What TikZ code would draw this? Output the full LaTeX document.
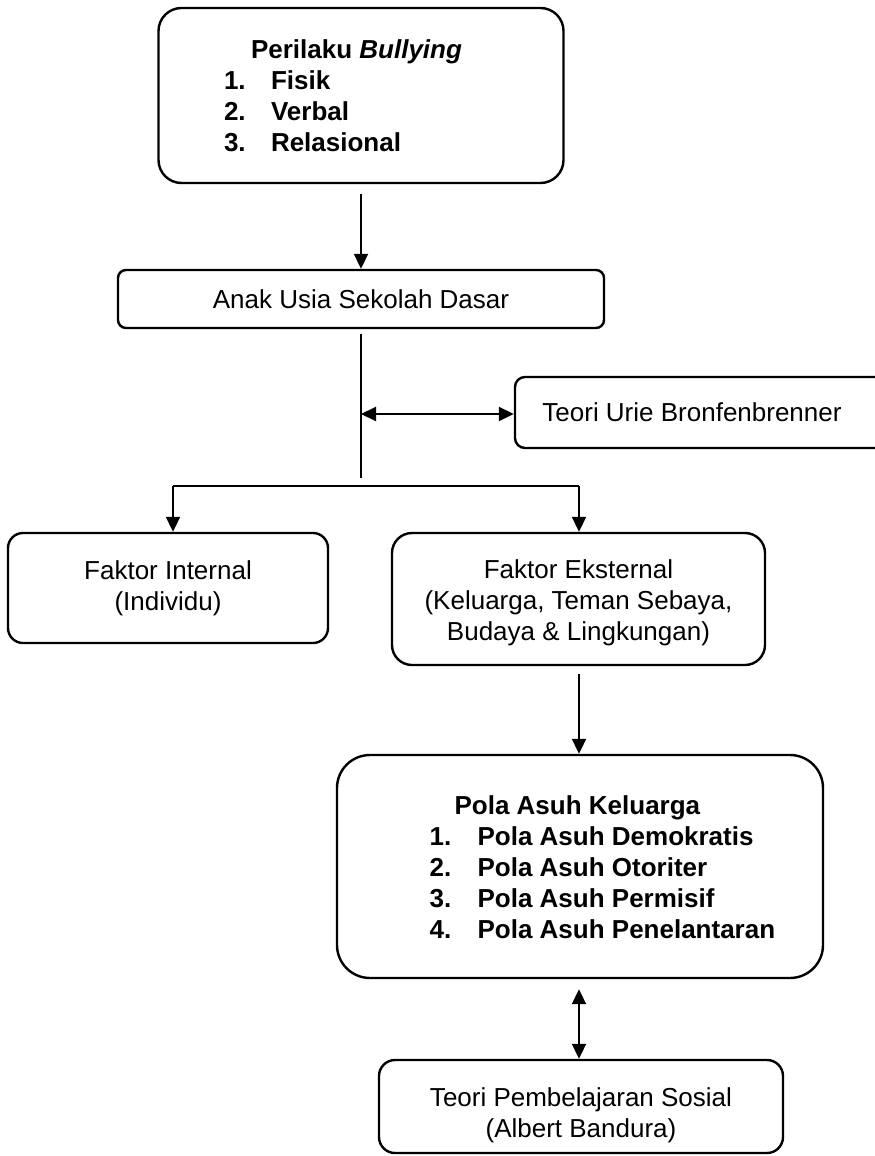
\documentclass[tikz,border=0pt]{standalone}
\usepackage{fontspec}
\setmainfont{Liberation Sans}
\usepackage{tikz}
\usetikzlibrary{arrows.meta}

\begin{document}
\begin{tikzpicture}[x=0.5pt,y=-0.5pt,
        box/.style={draw,line width=1.2pt,align=center,inner sep=0pt,font=\fontsize{13pt}{15.5pt}\selectfont},
        listbox/.style={box,font=\fontsize{13pt}{15.5pt}\selectfont\bfseries},
        arr/.style={line width=1pt,-{Triangle[length=7.5pt,width=7pt]}},
        twoarr/.style={line width=1pt,{Triangle[length=7.5pt,width=7pt]}-{Triangle[length=7.5pt,width=7pt]}},
        thinline/.style={line width=0.6pt}]
        	\useasboundingbox (0,0) rectangle (874,1156);
        	\node[listbox,rounded corners=11.5pt,minimum width=202.5pt,minimum height=87.5pt] (perilaku) at (361,95.5) {\hspace*{-18pt}\begin{tabular}{@{}p{23.5pt}@{}l@{}}
        			\multicolumn{2}{@{}l@{}}{\rule{0pt}{13.85pt}\hspace{13.5pt}Perilaku \textit{Bullying}}\\
        			1. & Fisik\\
        			2. & Verbal\\
        			3. & Relasional
        		\end{tabular}};
        	\node[box,rounded corners=4pt,minimum width=243pt,minimum height=29pt] (anak) at (361,299) {Anak Usia Sekolah Dasar};
        	\node[box,rounded corners=5pt,minimum width=190pt,minimum height=35.5pt] (teori) at (705,412.5) {\hspace*{-13pt}Teori Urie Bronfenbrenner};
        	\node[box,rounded corners=7.5pt,minimum width=160pt,minimum height=55pt] (internal) at (168,588) {Faktor Internal\\(Individu)};
        	\node[box,rounded corners=10pt,minimum width=186.5pt,minimum height=66pt] (eksternal) at (578.5,599) {\rule{0pt}{13.5pt}Faktor Eksternal\\(Keluarga, Teman Sebaya,\\Budaya \& Lingkungan)};
        	\node[listbox,rounded corners=16.5pt,minimum width=243pt,minimum height=111.5pt] (pola) at (580,866.5) {\hspace*{22.4pt}\begin{tabular}{@{}p{24pt}@{}l@{}}
        			\multicolumn{2}{@{}l@{}}{\rule{0pt}{14.85pt}\hspace{12.5pt}Pola Asuh Keluarga}\\
        			1. & Pola Asuh Demokratis\\
        			2. & Pola Asuh Otoriter\\
        			3. & Pola Asuh Permisif\\
        			4. & Pola Asuh Penelantaran
        		\end{tabular}};
        	\node[box,rounded corners=8pt,minimum width=202pt,minimum height=46.5pt] (bandura) at (581,1106.5) {\rule{0pt}{18.5pt}Teori Pembelajaran Sosial\\(Albert Bandura)};
        	\coordinate (split) at (361,478);
        	\coordinate (cross) at (361,414);
        	\coordinate (bleft) at (173,486);
        	\coordinate (bright) at (579,486);
        	\draw[arr,shorten <=5pt] (perilaku.south) -- (anak.north);
        	\draw[thinline] ([yshift=-2.5pt]anak.south) -- (split);
        	\draw[twoarr] (cross) -- (cross -| teori.west);
        	\draw[thinline] (bleft) -- (bright);
        	\draw[arr] (bleft) -- (bleft |- internal.north);
        	\draw[arr] (bright) -- (bright |- eksternal.north);
        	\draw[arr,shorten <=4pt] (eksternal.south -| bright) -- (bright |- pola.north);
        	\draw[twoarr,shorten <=5pt] (pola.south -| bright) -- (bright |- bandura.north);
        \end{tikzpicture}
\end{document}
